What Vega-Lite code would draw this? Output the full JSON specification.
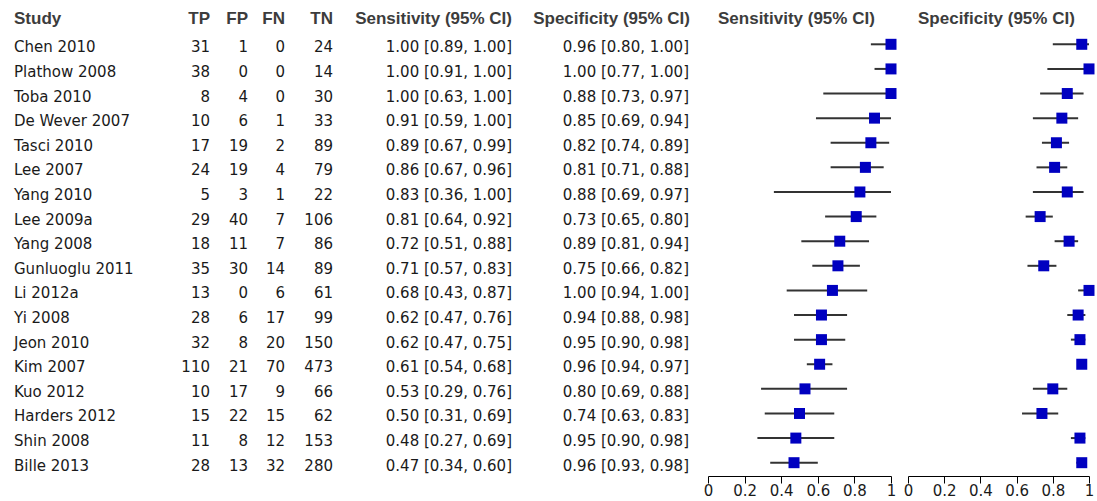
{
  "$schema": "https://vega.github.io/schema/vega-lite/v6.json",
  "padding": {"left": 14, "top": 10, "right": 0, "bottom": 0},
  "spacing": 17,
  "bounds": "flush",
  "background": "white",
  "config": {
    "view": {"stroke": null},
    "font": "DejaVu Sans",
    "text": {"font": "DejaVu Sans", "fontSize": 15, "color": "#1a1a1a"},
    "title": {"font": "Liberation Sans", "fontWeight": "bold", "fontSize": 17, "color": "#3c3c3c", "frame": "group", "offset": 4},
    "axis": {"labelFont": "DejaVu Sans"}
  },
  "data": {"values": [
    {"study": "Chen 2010", "tp": 31, "fp": 1, "fn": 0, "tn": 24, "sens": 1.00, "sens_lo": 0.89, "sens_hi": 1.00, "spec": 0.96, "spec_lo": 0.80, "spec_hi": 1.00, "sens_txt": "1.00 [0.89, 1.00]", "spec_txt": "0.96 [0.80, 1.00]"},
    {"study": "Plathow 2008", "tp": 38, "fp": 0, "fn": 0, "tn": 14, "sens": 1.00, "sens_lo": 0.91, "sens_hi": 1.00, "spec": 1.00, "spec_lo": 0.77, "spec_hi": 1.00, "sens_txt": "1.00 [0.91, 1.00]", "spec_txt": "1.00 [0.77, 1.00]"},
    {"study": "Toba 2010", "tp": 8, "fp": 4, "fn": 0, "tn": 30, "sens": 1.00, "sens_lo": 0.63, "sens_hi": 1.00, "spec": 0.88, "spec_lo": 0.73, "spec_hi": 0.97, "sens_txt": "1.00 [0.63, 1.00]", "spec_txt": "0.88 [0.73, 0.97]"},
    {"study": "De Wever 2007", "tp": 10, "fp": 6, "fn": 1, "tn": 33, "sens": 0.91, "sens_lo": 0.59, "sens_hi": 1.00, "spec": 0.85, "spec_lo": 0.69, "spec_hi": 0.94, "sens_txt": "0.91 [0.59, 1.00]", "spec_txt": "0.85 [0.69, 0.94]"},
    {"study": "Tasci 2010", "tp": 17, "fp": 19, "fn": 2, "tn": 89, "sens": 0.89, "sens_lo": 0.67, "sens_hi": 0.99, "spec": 0.82, "spec_lo": 0.74, "spec_hi": 0.89, "sens_txt": "0.89 [0.67, 0.99]", "spec_txt": "0.82 [0.74, 0.89]"},
    {"study": "Lee 2007", "tp": 24, "fp": 19, "fn": 4, "tn": 79, "sens": 0.86, "sens_lo": 0.67, "sens_hi": 0.96, "spec": 0.81, "spec_lo": 0.71, "spec_hi": 0.88, "sens_txt": "0.86 [0.67, 0.96]", "spec_txt": "0.81 [0.71, 0.88]"},
    {"study": "Yang 2010", "tp": 5, "fp": 3, "fn": 1, "tn": 22, "sens": 0.83, "sens_lo": 0.36, "sens_hi": 1.00, "spec": 0.88, "spec_lo": 0.69, "spec_hi": 0.97, "sens_txt": "0.83 [0.36, 1.00]", "spec_txt": "0.88 [0.69, 0.97]"},
    {"study": "Lee 2009a", "tp": 29, "fp": 40, "fn": 7, "tn": 106, "sens": 0.81, "sens_lo": 0.64, "sens_hi": 0.92, "spec": 0.73, "spec_lo": 0.65, "spec_hi": 0.80, "sens_txt": "0.81 [0.64, 0.92]", "spec_txt": "0.73 [0.65, 0.80]"},
    {"study": "Yang 2008", "tp": 18, "fp": 11, "fn": 7, "tn": 86, "sens": 0.72, "sens_lo": 0.51, "sens_hi": 0.88, "spec": 0.89, "spec_lo": 0.81, "spec_hi": 0.94, "sens_txt": "0.72 [0.51, 0.88]", "spec_txt": "0.89 [0.81, 0.94]"},
    {"study": "Gunluoglu 2011", "tp": 35, "fp": 30, "fn": 14, "tn": 89, "sens": 0.71, "sens_lo": 0.57, "sens_hi": 0.83, "spec": 0.75, "spec_lo": 0.66, "spec_hi": 0.82, "sens_txt": "0.71 [0.57, 0.83]", "spec_txt": "0.75 [0.66, 0.82]"},
    {"study": "Li 2012a", "tp": 13, "fp": 0, "fn": 6, "tn": 61, "sens": 0.68, "sens_lo": 0.43, "sens_hi": 0.87, "spec": 1.00, "spec_lo": 0.94, "spec_hi": 1.00, "sens_txt": "0.68 [0.43, 0.87]", "spec_txt": "1.00 [0.94, 1.00]"},
    {"study": "Yi 2008", "tp": 28, "fp": 6, "fn": 17, "tn": 99, "sens": 0.62, "sens_lo": 0.47, "sens_hi": 0.76, "spec": 0.94, "spec_lo": 0.88, "spec_hi": 0.98, "sens_txt": "0.62 [0.47, 0.76]", "spec_txt": "0.94 [0.88, 0.98]"},
    {"study": "Jeon 2010", "tp": 32, "fp": 8, "fn": 20, "tn": 150, "sens": 0.62, "sens_lo": 0.47, "sens_hi": 0.75, "spec": 0.95, "spec_lo": 0.90, "spec_hi": 0.98, "sens_txt": "0.62 [0.47, 0.75]", "spec_txt": "0.95 [0.90, 0.98]"},
    {"study": "Kim 2007", "tp": 110, "fp": 21, "fn": 70, "tn": 473, "sens": 0.61, "sens_lo": 0.54, "sens_hi": 0.68, "spec": 0.96, "spec_lo": 0.94, "spec_hi": 0.97, "sens_txt": "0.61 [0.54, 0.68]", "spec_txt": "0.96 [0.94, 0.97]"},
    {"study": "Kuo 2012", "tp": 10, "fp": 17, "fn": 9, "tn": 66, "sens": 0.53, "sens_lo": 0.29, "sens_hi": 0.76, "spec": 0.80, "spec_lo": 0.69, "spec_hi": 0.88, "sens_txt": "0.53 [0.29, 0.76]", "spec_txt": "0.80 [0.69, 0.88]"},
    {"study": "Harders 2012", "tp": 15, "fp": 22, "fn": 15, "tn": 62, "sens": 0.50, "sens_lo": 0.31, "sens_hi": 0.69, "spec": 0.74, "spec_lo": 0.63, "spec_hi": 0.83, "sens_txt": "0.50 [0.31, 0.69]", "spec_txt": "0.74 [0.63, 0.83]"},
    {"study": "Shin 2008", "tp": 11, "fp": 8, "fn": 12, "tn": 153, "sens": 0.48, "sens_lo": 0.27, "sens_hi": 0.69, "spec": 0.95, "spec_lo": 0.90, "spec_hi": 0.98, "sens_txt": "0.48 [0.27, 0.69]", "spec_txt": "0.95 [0.90, 0.98]"},
    {"study": "Bille 2013", "tp": 28, "fp": 13, "fn": 32, "tn": 280, "sens": 0.47, "sens_lo": 0.34, "sens_hi": 0.60, "spec": 0.96, "spec_lo": 0.93, "spec_hi": 0.98, "sens_txt": "0.47 [0.34, 0.60]", "spec_txt": "0.96 [0.93, 0.98]"}
  ]},
  "hconcat": [
    {"width": 154, "height": 443, "title": {"text": "Study", "anchor": "start"},
     "mark": {"type": "text", "align": "left", "baseline": "middle", "dy": 3},
     "encoding": {"y": {"field": "study", "type": "nominal", "sort": null, "axis": null, "scale": {"paddingInner": 0, "paddingOuter": 0}}, "x": {"value": 0}, "text": {"field": "study"}}},
    {"width": 25, "height": 443, "title": {"text": "TP", "anchor": "end"},
     "mark": {"type": "text", "align": "right", "baseline": "middle", "dy": 3},
     "encoding": {"y": {"field": "study", "type": "nominal", "sort": null, "axis": null, "scale": {"paddingInner": 0, "paddingOuter": 0}}, "x": {"value": "width"}, "text": {"field": "tp"}}},
    {"width": 21, "height": 443, "title": {"text": "FP", "anchor": "end"},
     "mark": {"type": "text", "align": "right", "baseline": "middle", "dy": 3},
     "encoding": {"y": {"field": "study", "type": "nominal", "sort": null, "axis": null, "scale": {"paddingInner": 0, "paddingOuter": 0}}, "x": {"value": "width"}, "text": {"field": "fp"}}},
    {"width": 20, "height": 443, "title": {"text": "FN", "anchor": "end"},
     "mark": {"type": "text", "align": "right", "baseline": "middle", "dy": 3},
     "encoding": {"y": {"field": "study", "type": "nominal", "sort": null, "axis": null, "scale": {"paddingInner": 0, "paddingOuter": 0}}, "x": {"value": "width"}, "text": {"field": "fn"}}},
    {"width": 31, "height": 443, "title": {"text": "TN", "anchor": "end"},
     "mark": {"type": "text", "align": "right", "baseline": "middle", "dy": 3},
     "encoding": {"y": {"field": "study", "type": "nominal", "sort": null, "axis": null, "scale": {"paddingInner": 0, "paddingOuter": 0}}, "x": {"value": "width"}, "text": {"field": "tn"}}},
    {"width": 162, "height": 443, "title": {"text": "Sensitivity (95% CI)", "anchor": "end"},
     "mark": {"type": "text", "align": "right", "baseline": "middle", "dy": 3},
     "encoding": {"y": {"field": "study", "type": "nominal", "sort": null, "axis": null, "scale": {"paddingInner": 0, "paddingOuter": 0}}, "x": {"value": "width"}, "text": {"field": "sens_txt"}}},
    {"width": 162, "height": 443, "title": {"text": "Specificity (95% CI)", "anchor": "end", "dx": -1},
     "mark": {"type": "text", "align": "right", "baseline": "middle", "dy": 3, "dx": -2},
     "encoding": {"y": {"field": "study", "type": "nominal", "sort": null, "axis": null, "scale": {"paddingInner": 0, "paddingOuter": 0}}, "x": {"value": "width"}, "text": {"field": "spec_txt"}}},
    {"width": 183, "height": 443, "title": {"text": "Sensitivity (95% CI)", "anchor": "start", "dx": 10},
     "layer": [
       {"mark": {"type": "rule", "color": "#333333", "strokeWidth": 2},
        "encoding": {"y": {"field": "study", "type": "nominal", "sort": null, "axis": null, "scale": {"paddingInner": 0, "paddingOuter": 0}},
          "x": {"field": "sens_lo", "type": "quantitative", "scale": {"domain": [0, 1], "nice": false, "zero": false},
                "axis": {"values": [0, 0.2, 0.4, 0.6, 0.8, 1], "format": "~g", "title": null, "grid": false, "domainColor": "#000000", "tickColor": "#000000", "tickSize": 7, "offset": 1, "labelFontSize": 15, "labelColor": "#1a1a1a", "labelPadding": 0, "labelFlush": false, "labelOverlap": false}},
          "x2": {"field": "sens_hi"}}},
       {"mark": {"type": "square", "size": 121, "color": "#0000c0", "opacity": 1, "filled": true},
        "encoding": {"y": {"field": "study", "type": "nominal", "sort": null, "axis": null, "scale": {"paddingInner": 0, "paddingOuter": 0}},
          "x": {"field": "sens", "type": "quantitative",
                "axis": {"values": [0, 0.2, 0.4, 0.6, 0.8, 1], "format": "~g", "title": null, "grid": false, "domainColor": "#000000", "tickColor": "#000000", "tickSize": 7, "offset": 1, "labelFontSize": 15, "labelColor": "#1a1a1a", "labelPadding": 0, "labelFlush": false, "labelOverlap": false}}}}
     ]},
    {"width": 181, "height": 443, "title": {"text": "Specificity (95% CI)", "anchor": "start", "dx": 10},
     "layer": [
       {"mark": {"type": "rule", "color": "#333333", "strokeWidth": 2},
        "encoding": {"y": {"field": "study", "type": "nominal", "sort": null, "axis": null, "scale": {"paddingInner": 0, "paddingOuter": 0}},
          "x": {"field": "spec_lo", "type": "quantitative", "scale": {"domain": [0, 1], "nice": false, "zero": false},
                "axis": {"values": [0, 0.2, 0.4, 0.6, 0.8, 1], "format": "~g", "title": null, "grid": false, "domainColor": "#000000", "tickColor": "#000000", "tickSize": 7, "offset": 1, "labelFontSize": 15, "labelColor": "#1a1a1a", "labelPadding": 0, "labelFlush": false, "labelOverlap": false}},
          "x2": {"field": "spec_hi"}}},
       {"mark": {"type": "square", "size": 121, "color": "#0000c0", "opacity": 1, "filled": true},
        "encoding": {"y": {"field": "study", "type": "nominal", "sort": null, "axis": null, "scale": {"paddingInner": 0, "paddingOuter": 0}},
          "x": {"field": "spec", "type": "quantitative",
                "axis": {"values": [0, 0.2, 0.4, 0.6, 0.8, 1], "format": "~g", "title": null, "grid": false, "domainColor": "#000000", "tickColor": "#000000", "tickSize": 7, "offset": 1, "labelFontSize": 15, "labelColor": "#1a1a1a", "labelPadding": 0, "labelFlush": false, "labelOverlap": false}}}}
     ]}
  ]
}
